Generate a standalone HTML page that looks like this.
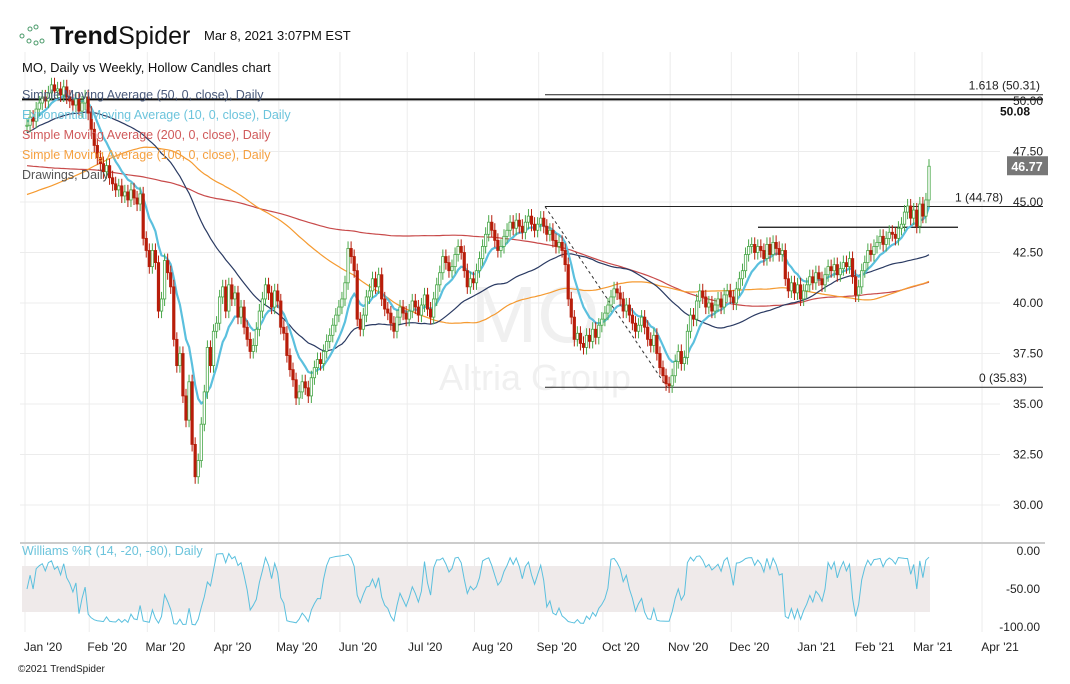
<!DOCTYPE html>
<html><head><meta charset="utf-8"><style>
body{margin:0;background:#fff;font-family:"Liberation Sans",sans-serif}
svg text{font-family:"Liberation Sans",sans-serif}
</style></head><body>
<svg id="c" width="1070" height="679" xmlns="http://www.w3.org/2000/svg">
<g>
<circle cx="22" cy="36" r="2" fill="none" stroke="#4a9a6a"/><circle cx="30" cy="29" r="2" fill="none" stroke="#4a9a6a"/><circle cx="36" cy="27" r="2" fill="none" stroke="#4a9a6a"/><circle cx="29" cy="41" r="2" fill="none" stroke="#4a9a6a"/><circle cx="36" cy="43" r="2" fill="none" stroke="#4a9a6a"/><circle cx="42" cy="41" r="2" fill="none" stroke="#4a9a6a"/>
<text x="50" y="44" font-size="25" fill="#111"><tspan font-weight="bold">Trend</tspan>Spider</text>
</g>
<text x="204" y="40" font-size="13" fill="#111">Mar 8, 2021 3:07PM EST</text>
<g id="grid"></g>
<text x="535" y="342" font-size="80" fill="#f0f0f0" text-anchor="middle">MO</text>
<text x="535" y="390" font-size="36" fill="#f0f0f0" text-anchor="middle">Altria Group</text>
<rect x="22" y="566" width="908" height="46" fill="#efeaea"/>
<line x1="20" y1="543" x2="1045" y2="543" stroke="#ccc" stroke-width="2"/>
<g id="draw"></g>
<g id="ma"></g>
<g id="candles"></g>
<g id="wr"></g>
<g id="axes"></g>
<g font-size="12.5">
<text x="22" y="72" fill="#111" font-size="13">MO, Daily vs Weekly, Hollow Candles chart</text>
<text x="22" y="99" fill="#4a5a7a">Simple Moving Average (50, 0, close), Daily</text>
<text x="22" y="119" fill="#6cc4dc">Exponential Moving Average (10, 0, close), Daily</text>
<text x="22" y="139" fill="#d05a5a">Simple Moving Average (200, 0, close), Daily</text>
<text x="22" y="159" fill="#f5a040">Simple Moving Average (100, 0, close), Daily</text>
<text x="22" y="179" fill="#555">Drawings, Daily</text>
<text x="22" y="555" fill="#6cc4dc">Williams %R (14, -20, -80), Daily</text>
</g>
<text x="18" y="672" font-size="10" fill="#222">©2021 TrendSpider</text>
</svg>
<script>
const closes2020=[48.8,49.2,49.0,49.6,49.9,50.2,50.0,50.4,50.8,50.5,50.6,50.3,50.7,50.2,50.0,49.8,50.1,49.5,49.9,50.2,49.4,
48.6,47.8,47.2,46.9,46.5,46.8,46.2,45.9,45.6,45.8,45.3,45.5,45.1,45.6,45.2,44.9,45.4,43.2,42.6,
41.8,42.6,42.0,39.6,40.2,42.1,41.5,40.8,38.2,36.9,37.5,35.4,34.2,36.1,33.0,31.4,32.2,34.0,35.6,37.8,36.9,38.6,
39.0,40.3,40.8,39.6,40.9,40.2,40.5,39.3,39.8,38.8,38.2,37.6,37.9,38.7,39.6,40.2,40.9,40.5,39.8,40.6,40.1,
38.8,38.5,37.4,36.7,36.2,35.3,35.6,36.1,35.8,35.4,36.3,36.8,37.2,37.0,37.6,38.1,38.4,38.9,39.4,39.8,
40.2,41.0,42.7,42.3,41.6,39.2,38.7,39.4,40.3,40.6,41.2,40.8,41.4,40.2,39.7,39.5,39.0,38.6,39.3,39.8,39.5,39.2,
39.6,40.1,39.8,39.4,39.9,40.4,39.7,39.3,40.2,40.9,41.5,42.3,42.0,41.6,41.8,42.4,42.8,42.5,41.6,40.8,41.2,41.0,
41.6,42.2,42.8,43.4,44.0,43.6,43.1,42.6,42.8,43.3,43.6,44.0,43.7,44.1,43.8,43.5,44.0,44.3,43.9,43.6,43.9,
44.2,43.8,43.4,43.6,43.1,42.8,43.0,42.6,41.9,40.2,39.3,38.2,38.5,38.0,37.8,38.4,38.1,38.7,38.3,38.9,39.2,
39.5,39.9,40.3,40.7,40.5,40.2,39.6,39.9,39.4,39.0,38.6,38.9,39.3,38.8,38.2,37.9,38.4,37.5,36.8,36.4,36.0,35.9,
36.4,37.1,37.6,37.0,37.3,38.6,39.4,39.2,40.1,40.6,40.3,39.8,40.0,39.6,39.9,40.2,39.8,40.4,40.6,40.3,
40.0,40.7,41.2,41.6,42.4,42.8,42.9,42.5,42.8,42.6,42.2,42.9,42.4,43.0,42.7,42.4,42.6,41.2,40.6,41.0,40.5,40.9];
const closes2021=[40.2,40.6,40.9,41.3,41.0,41.5,41.2,40.9,41.4,41.8,41.6,41.9,41.4,41.7,42.0,41.8,42.2,41.3,40.4,
40.8,41.6,42.0,42.6,42.4,42.8,43.0,43.3,42.9,43.2,43.5,43.4,43.2,43.7,43.9,44.5,44.8,44.2,44.6,
43.8,44.9,44.3,45.1,46.77];
const prior2019Weekly=[52,53,52,51,50,51,50,49,48,47,47,46,45,46,47,48,47,46,45,46,44,45,44,43,40,39,40,41,43,44,45,47,48,49,49,49,49,49.5,49,49];
const monthLabels=["Jan '20","Feb '20","Mar '20","Apr '20","May '20","Jun '20","Jul '20","Aug '20","Sep '20","Oct '20","Nov '20","Dec '20","Jan '21","Feb '21","Mar '21","Apr '21"];
const monthStartIdx=[0,21,40,62,83,103,125,147,168,189,211,231,253,272,291,313];
const priceTicks=[30,32.5,35,37.5,40,42.5,45,47.5,50];
const wrTicks=[0,-50,-100];
const fibLevels=[50.31,44.78,35.83];
const fibNames=["1.618","1","0"];
const resistance=50.08, resistance2=43.75;

const NS="http://www.w3.org/2000/svg";
const closes=closes2020.concat(closes2021);
const N=closes.length;
const X=i=>27+i*(902/(N-1));
const Y=v=>101+(50-v)*20.2;
const WY=v=>551+(-v)*0.76;
function mk(tag,attrs,parent){const e=document.createElementNS(NS,tag);for(const k in attrs)e.setAttribute(k,attrs[k]);document.getElementById(parent).appendChild(e);return e;}
priceTicks.forEach(t=>{const l=mk('line',{x1:20,x2:1000,y1:Y(t),y2:Y(t),stroke:'#ececec'},'grid');

});
monthStartIdx.forEach((m,k)=>{const x=X(m)-2;const l=mk('line',{x1:x,x2:x,y1:52,y2:632,stroke:'#ececec'},'grid');


const t=mk('text',{x:x+18,y:651,'font-size':12,fill:'#222','text-anchor':'middle'},'axes');t.textContent=monthLabels[k];

});
priceTicks.forEach(t=>{const e=mk('text',{x:1043,y:Y(t)+4,'font-size':12,fill:'#222','text-anchor':'end'},'axes');e.textContent=t.toFixed(2);

});
wrTicks.forEach(t=>{const e=mk('text',{x:1040,y:WY(t)+4,'font-size':12,fill:'#222','text-anchor':'end'},'axes');e.textContent=t.toFixed(2);

});
let pre=[];prior2019Weekly.forEach(v=>{for(let k=0;k<5;k++)pre.push(v);});
const full=pre.concat(closes),P=pre.length;
function sma(n){return closes.map((c,i)=>{let s=0;for(let k=P+i-n+1;k<=P+i;k++)s+=full[k];return s/n;});}
function ema(n){const a=2/(n+1);let e=full[0];const out=[];full.forEach((v,k)=>{e=a*v+(1-a)*e;if(k>=P)out.push(e);});return out;}
function line(vals,color,w,name){const d=vals.map((v,i)=>(i?'L':'M')+X(i).toFixed(1)+','+Y(v).toFixed(1)).join('');const p=mk('path',{d:d,fill:'none',stroke:color,'stroke-width':w},'ma');

}
line(sma(200),'#c84a4a',1.2,'sma-200-line');
line(sma(100),'#f59a30',1.2,'sma-100-line');
line(sma(50),'#2a3a62',1.2,'sma-50-line');
line(ema(10),'#5bc0de',2.2,'ema-10-line');
const highs=[],lows=[];
closes.forEach((c,i)=>{const o=i?closes[i-1]:c;const hi=Math.max(o,c)+0.35,lo=Math.min(o,c)-0.35;highs.push(hi);lows.push(lo);
const up=c>=o,col=up?'#4aa84a':'#b81d0a',x=X(i);
const w=mk('line',{x1:x,x2:x,y1:Y(hi),y2:Y(lo),stroke:col,'stroke-width':1},'candles');


const top=Y(Math.max(o,c)),h=Math.max(1,Math.abs(Y(o)-Y(c)));
const r=mk('rect',{x:x-1.2,y:top,width:2.4,height:h,fill:up?'#fff':col,stroke:col,'stroke-width':0.8},'candles');

});
const wr=closes.map((c,i)=>{const s=Math.max(0,i-13);const hh=Math.max(...highs.slice(s,i+1)),ll=Math.min(...lows.slice(s,i+1));return -100*(hh-c)/(hh-ll||1);});
const wp=mk('path',{d:wr.map((v,i)=>(i?'L':'M')+X(i).toFixed(1)+','+WY(v).toFixed(1)).join(''),fill:'none',stroke:'#5bc0de','stroke-width':1},'wr');


const r1=mk('line',{x1:22,x2:1043,y1:Y(resistance),y2:Y(resistance),stroke:'#111','stroke-width':2},'draw');


const rt=mk('text',{x:1030,y:Y(resistance)+16,'font-size':12,'font-weight':'bold',fill:'#111','text-anchor':'end'},'draw');rt.textContent=resistance.toFixed(2);


const r2=mk('line',{x1:758,x2:958,y1:Y(resistance2),y2:Y(resistance2),stroke:'#111','stroke-width':1.2},'draw');


const fibLabelEnd=[1040,1003,1027];
fibLevels.forEach((v,k)=>{const l=mk('line',{x1:545,x2:1043,y1:Y(v),y2:Y(v),stroke:'#222','stroke-width':1},'draw');


const t=mk('text',{x:fibLabelEnd[k],y:Y(v)-5,'font-size':12,fill:'#222','text-anchor':'end'},'draw');t.textContent=fibNames[k]+' ('+v.toFixed(2)+')';

});
const dg=mk('line',{x1:545,y1:Y(fibLevels[1]),x2:667,y2:Y(fibLevels[2]),stroke:'#333','stroke-width':1,'stroke-dasharray':'3,3'},'draw');


const last=closes[N-1];
const lb=mk('rect',{x:1007,y:Y(last)-10,width:41,height:19,fill:'#777'},'axes');


const lt=mk('text',{x:1027,y:Y(last)+5,'font-size':12.5,'font-weight':'bold',fill:'#fff','text-anchor':'middle'},'axes');lt.textContent=last.toFixed(2);


</script>
</body></html>
